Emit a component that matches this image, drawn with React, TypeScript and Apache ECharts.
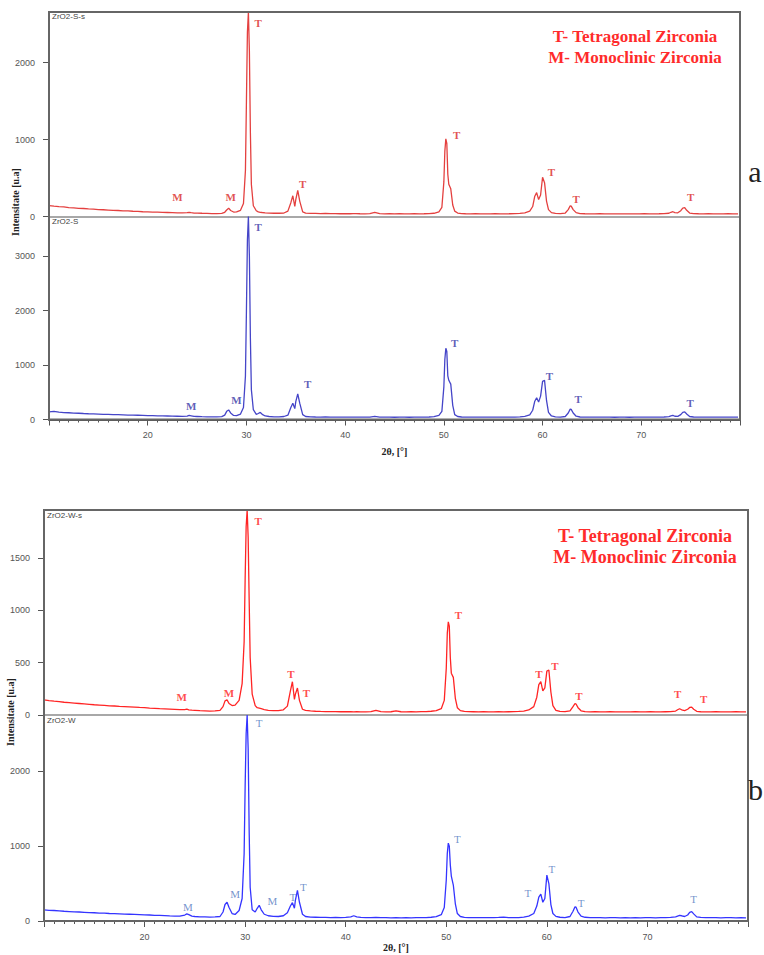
import React, { useEffect, useRef } from "react";
import * as echarts from "echarts";

// 2θ positions (degrees), shared by all four patterns
const twoTheta = [
  10, 10.5, 11, 11.5, 12, 12.5, 13, 13.5, 14, 14.5, 15, 15.5, 16, 16.5, 17, 17.5, 18, 18.5, 19, 19.5, 20, 20.5, 21, 21.5, 22, 22.5, 23, 23.5,
  24, 24.2, 24.4, 24.7, 25, 25.5, 26, 26.5, 27, 27.5, 27.8, 28, 28.2, 28.4, 28.7, 29, 29.4, 29.7,
  29.9, 30, 30.1, 30.2, 30.3, 30.4, 30.5, 30.7, 31, 31.2, 31.4, 31.6, 31.9,
  32.3, 32.8, 33.3, 33.8, 34.2, 34.5, 34.7, 34.9, 35, 35.2, 35.4, 35.7, 36, 36.5,
  37, 37.5, 38, 38.5, 39, 39.5, 40, 40.5, 40.8, 41.1, 41.5, 42, 42.5, 43, 43.5, 44, 44.5, 45, 45.5, 46, 46.5, 47, 47.5, 48, 48.5, 49, 49.5,
  49.8, 50, 50.1, 50.2, 50.3, 50.4, 50.5, 50.7, 50.9, 51.1, 51.4, 51.8,
  52.2, 52.7, 53.2, 53.7, 54.2, 54.7, 55.2, 55.7, 56.2, 56.7, 57.2, 57.7, 58.2, 58.7,
  59, 59.2, 59.4, 59.6, 59.8, 60, 60.2, 60.4, 60.6, 60.9, 61.3, 61.8,
  62.3, 62.6, 62.8, 62.9, 63.1, 63.4, 63.8,
  64.3, 64.8, 65.3, 65.8, 66.3, 66.8, 67.3, 67.8, 68.3, 68.8, 69.3, 69.8, 70.3, 70.8, 71.3, 71.8, 72.3, 72.8,
  73, 73.2, 73.4, 73.7, 74, 74.2, 74.4, 74.6, 74.9,
  75.3, 75.8, 76.3, 76.8, 77.3, 77.8, 78.3, 78.8, 79.3, 79.8,
];

// ZrO2-S-s (figure a, upper, red)
const intensitySs = [
  142, 134, 128, 124, 116, 112, 106, 104, 98, 95, 90, 88, 84, 80, 78, 74, 72, 68, 66, 62, 60, 58, 56, 53, 52, 50, 48, 47,
  50, 54, 50, 45, 44, 42, 40, 38, 38, 40, 55, 85, 108, 78, 58, 60, 80, 170,
  600, 1500, 2400, 2660, 2150, 1100, 420, 140, 75, 60, 55, 52, 48,
  45, 42, 42, 45, 70, 180, 270, 130, 220, 340, 200, 60, 45, 40,
  40, 38, 40, 37, 38, 36, 38, 36, 38, 37, 36, 35, 38, 55, 38, 35, 36, 34, 36, 35, 34, 36, 35, 36, 38, 42, 60,
  120, 450, 850, 1010, 950, 550, 420, 360, 150, 70, 45, 38,
  36, 35, 36, 34, 35, 34, 36, 34, 35, 36, 38, 40, 48, 70,
  130, 260, 310, 220, 280, 510, 440, 200, 90, 50, 40, 38,
  45, 90, 140, 135, 90, 50, 38,
  36, 35, 34, 36, 34, 35, 33, 35, 34, 33, 35, 34, 36, 34, 35, 36, 38, 42,
  55, 62, 50, 48, 75, 110, 115, 80, 45,
  38, 36, 35, 36, 34, 35, 34, 36, 35, 34,
];

// ZrO2-S (figure a, lower, blue)
const intensityS = [
  140, 148, 135, 128, 124, 118, 115, 110, 106, 104, 100, 96, 94, 90, 88, 86, 82, 80, 78, 75, 72, 70, 68, 66, 64, 62, 60, 58,
  62, 75, 68, 56, 55, 52, 50, 48, 50, 52, 80, 150, 175, 120, 75, 70, 100, 220,
  800, 2000, 3300, 3730, 3000, 1500, 550, 180, 95, 110, 130, 95, 65,
  55, 50, 50, 55, 80, 220, 300, 200, 330, 470, 300, 90, 55, 48,
  46, 45, 47, 44, 45, 43, 45, 44, 45, 43, 44, 42, 44, 58, 44, 42, 43, 41, 43, 42, 41, 43, 42, 44, 46, 52, 75,
  150, 600, 1100, 1310, 1250, 800, 720, 650, 260, 90, 55, 46,
  44, 43, 44, 42, 43, 42, 44, 43, 42, 44, 45, 48, 58, 85,
  170, 330, 400, 320, 430, 700, 720, 350, 130, 65, 48, 45,
  55, 120, 190, 185, 120, 60, 46,
  44, 43, 42, 44, 42, 43, 41, 43, 42, 41, 43, 42, 44, 42, 43, 44, 46, 52,
  65, 75, 60, 58, 90, 130, 140, 100, 55,
  46, 44, 43, 44, 42, 43, 42, 44, 43, 42,
];

// ZrO2-W-s (figure b, upper, red)
const intensityWs = [
  145, 138, 132, 128, 122, 118, 114, 110, 106, 102, 98, 95, 92, 88, 86, 82, 80, 78, 75, 72, 70, 66, 64, 60, 58, 56, 54, 52,
  52, 56, 50, 46, 45, 42, 40, 38, 40, 45, 80, 135, 145, 110, 90, 95, 140, 300,
  700, 1300, 1800, 1960, 1700, 1100, 550, 200, 90, 70, 65, 60, 52,
  45, 42, 42, 50, 85, 230, 318, 150, 200, 258, 140, 55, 45, 40,
  36, 34, 33, 32, 33, 31, 32, 31, 30, 31, 30, 30, 32, 45, 32, 30, 31, 40, 31, 30, 31, 30, 32, 33, 36, 42, 60,
  140, 450, 780, 890, 850, 550, 400, 360, 160, 70, 42, 35,
  32, 31, 30, 31, 30, 29, 31, 30, 31, 32, 34, 38, 48, 80,
  170, 290, 320, 230, 260, 420, 430, 220, 90, 45, 35, 32,
  40, 80, 110, 105, 70, 40, 32,
  30, 31, 29, 30, 31, 29, 30, 29, 30, 31, 29, 30, 31, 30, 29, 31, 33, 38,
  50, 60, 50, 42, 55, 72, 75, 55, 35,
  31, 30, 29, 31, 30, 29, 30, 31, 29, 30,
];

// ZrO2-W (figure b, lower, blue)
const intensityW = [
  148, 142, 140, 135, 130, 126, 122, 120, 116, 112, 110, 106, 104, 100, 98, 95, 92, 90, 88, 85, 82, 80, 76, 74, 72, 68, 66, 64,
  80, 95, 85, 65, 60, 56, 54, 52, 55, 60, 120, 220, 250, 180, 100, 88, 140, 300,
  900, 1800, 2500, 2750, 2300, 1200, 450, 150, 120, 170, 210, 150, 90,
  70, 62, 60, 70, 110, 200, 245, 170, 280, 410, 250, 90, 60, 52,
  50, 48, 49, 46, 47, 45, 48, 55, 70, 56, 48, 46, 45, 48, 44, 45, 43, 44, 42, 44, 43, 45, 44, 46, 50, 58, 85,
  180, 550, 900, 1040, 1000, 750, 600, 480, 230, 100, 60, 48,
  46, 45, 44, 46, 44, 45, 48, 52, 45, 44, 46, 52, 65, 100,
  200, 320, 360, 250, 300, 613, 500, 220, 100, 62, 50, 46,
  60, 130, 190, 185, 120, 65, 50,
  46, 44, 45, 43, 44, 45, 43, 44, 42, 44, 43, 45, 44, 43, 45, 44, 48, 55,
  65, 75, 70, 60, 80, 115, 125, 95, 55,
  48, 45, 44, 45, 43, 44, 45, 43, 44, 43,
];

// Phase labels: [2θ, intensity, phase]
const phasesSs = [
  [23.0, 250, "M"], [28.4, 250, "M"], [31.2, 2520, "T"], [35.7, 420, "T"],
  [51.3, 1060, "T"], [60.9, 580, "T"], [63.4, 230, "T"], [75.0, 255, "T"],
];
const phasesS = [
  [24.4, 255, "M"], [29.0, 358, "M"], [31.2, 3530, "T"], [36.2, 650, "T"],
  [51.1, 1400, "T"], [60.7, 800, "T"], [63.6, 375, "T"], [74.95, 300, "T"],
];
const phasesWs = [
  [23.7, 170, "M"], [28.4, 210, "M"], [31.3, 1855, "T"], [34.55, 390, "T"], [36.1, 210, "T"],
  [51.2, 955, "T"], [59.2, 390, "T"], [60.8, 470, "T"], [63.2, 180, "T"], [73.0, 200, "T"], [75.6, 150, "T"],
];
const phasesW = [
  [24.3, 185, "M"], [29.0, 360, "M"], [31.4, 2640, "T"], [32.7, 265, "M"], [34.75, 320, "T"], [35.8, 450, "T"],
  [51.1, 1090, "T"], [58.1, 370, "T"], [60.5, 700, "T"], [63.4, 240, "T"], [74.6, 290, "T"],
];

const xTickLabels = [20, 30, 40, 50, 60, 70];
const yTicksSs = [0, 1000, 2000];
const yTicksS = [0, 1000, 2000, 3000];
const yTicksWs = [0, 500, 1000, 1500];
const yTicksW = [0, 1000, 2000];

const legendLines = ["T- Tetragonal Zirconia", "M- Monoclinic Zirconia"];
const yTitle = "Intensitate [u.a]";
const xTitle = "2θ, [°]";

export default function App() {
  const ref = useRef<HTMLDivElement>(null);

  useEffect(() => {
    if (!ref.current) return;
    const chart = echarts.init(ref.current, null, { renderer: "svg" });

    const panels = [
      { grid: { left: 49, top: 12, width: 691, height: 204.5 }, max: 2660, ticks: yTicksSs, values: intensitySs, phases: phasesSs,
        line: "#e4403f", labelColor: "#d92626", labelWeight: "bold", bottom: false, nameGap: 27 },
      { grid: { left: 49, top: 216.5, width: 691, height: 203 }, max: 3730, ticks: yTicksS, values: intensityS, phases: phasesS,
        line: "#4545c8", labelColor: "#3636a6", labelWeight: "bold", bottom: true, nameGap: 27 },
      { grid: { left: 44, top: 510, width: 704, height: 205 }, max: 1960, ticks: yTicksWs, values: intensityWs, phases: phasesWs,
        line: "#ff2424", labelColor: "#ff2020", labelWeight: "bold", bottom: false, nameGap: 21 },
      { grid: { left: 44, top: 715, width: 704, height: 206 }, max: 2750, ticks: yTicksW, values: intensityW, phases: phasesW,
        line: "#3434ff", labelColor: "#5078c0", labelWeight: "normal", bottom: true, nameGap: 21 },
    ];

    const tickColor = "#555";
    const sans = "Liberation Sans";
    const serif = "Liberation Serif";

    const grids = panels.map((p) => ({ ...p.grid, outerBoundsMode: "none", containLabel: false }));
    const xAxes = panels.map((p, i) => ({
      type: "value",
      gridIndex: i,
      min: 10,
      max: 80,
      interval: 10,
      axisLine: { show: true, onZero: false, lineStyle: { color: p.bottom ? "#555" : "#a8a8a8", width: 2 } },
      axisTick: { show: p.bottom, length: 6, lineStyle: { color: tickColor } },
      minorTick: { show: p.bottom, splitNumber: 10, length: 3, lineStyle: { color: tickColor } },
      axisLabel: { show: p.bottom, customValues: xTickLabels, fontSize: 9, color: tickColor, fontFamily: sans, margin: 11 },
      splitLine: { show: false },
      minorSplitLine: { show: false },
      name: p.bottom ? xTitle : "",
      nameLocation: "middle",
      nameGap: p.nameGap,
      nameTextStyle: { fontFamily: serif, fontWeight: "bold", fontSize: 10, color: "#222" },
    }));
    const yAxes = panels.map((p, i) => ({
      type: "value",
      gridIndex: i,
      min: 0,
      max: p.max,
      axisLine: { show: false },
      axisTick: { show: true, length: 6, customValues: p.ticks, lineStyle: { color: tickColor } },
      axisLabel: {
        customValues: p.ticks,
        formatter: (v: number) => String(v),
        fontSize: 9,
        color: tickColor,
        fontFamily: sans,
        margin: 14,
      },
      splitLine: { show: false },
    }));

    const series: any[] = [];
    panels.forEach((p, i) => {
      series.push({
        type: "line",
        xAxisIndex: i,
        yAxisIndex: i,
        data: twoTheta.map((t, k) => [t, p.values[k]]),
        showSymbol: false,
        symbol: "none",
        clip: true,
        lineStyle: { color: p.line, width: 1.3 },
        silent: true,
        z: 2,
      });
      series.push({
        type: "scatter",
        xAxisIndex: i,
        yAxisIndex: i,
        symbolSize: 1,
        itemStyle: { color: "rgba(0,0,0,0)" },
        silent: true,
        data: p.phases.map((a: any) => ({ value: [a[0], a[1]], name: a[2] })),
        label: {
          show: true,
          position: "inside",
          formatter: "{b}",
          color: p.labelColor,
          fontFamily: serif,
          fontWeight: p.labelWeight,
          fontSize: 11,
        },
        z: 3,
      });
    });

    const text = (x: number, y: number, t: string, font: string, fill: string, align = "left", rotation = 0) => ({
      type: "text",
      x,
      y,
      rotation,
      silent: true,
      z: 50,
      style: { text: t, font, fill, align, verticalAlign: "middle" },
    });

    const graphic: any[] = [
      { type: "rect", silent: true, z: 40, shape: { x: 49, y: 12, width: 691, height: 407.5 }, style: { fill: "none", stroke: "#666", lineWidth: 2 } },
      { type: "rect", silent: true, z: 40, shape: { x: 44, y: 510, width: 704, height: 411 }, style: { fill: "none", stroke: "#666", lineWidth: 2 } },
      text(52, 16, "ZrO2-S-s", `8px "${sans}"`, "#444"),
      text(52, 221, "ZrO2-S", `8px "${sans}"`, "#444"),
      text(47, 515, "ZrO2-W-s", `8px "${sans}"`, "#444"),
      text(47, 720, "ZrO2-W", `8px "${sans}"`, "#444"),
      text(635, 36, legendLines[0], `bold 17px "${serif}"`, "#ff2b2b", "center"),
      text(635, 57, legendLines[1], `bold 17px "${serif}"`, "#ff2b2b", "center"),
      text(645, 536, legendLines[0], `bold 18px "${serif}"`, "#ff2b2b", "center"),
      text(645, 557, legendLines[1], `bold 18px "${serif}"`, "#ff2b2b", "center"),
      text(15, 202, yTitle, `bold 10px "${serif}"`, "#222", "center", Math.PI / 2),
      text(10, 712, yTitle, `bold 10px "${serif}"`, "#222", "center", Math.PI / 2),
      text(755, 171, "a", `30px "${serif}"`, "#222", "center"),
      text(748, 789, "b", `30px "${serif}"`, "#222", "left"),
    ];

    chart.setOption({
      animation: false,
      backgroundColor: "#fff",
      grid: grids,
      xAxis: xAxes,
      yAxis: yAxes,
      series,
      graphic,
    });

    return () => chart.dispose();
  }, []);

  return <div ref={ref} style={{ position: "absolute", left: 0, top: 0, width: 764, height: 955 }} />;
}
